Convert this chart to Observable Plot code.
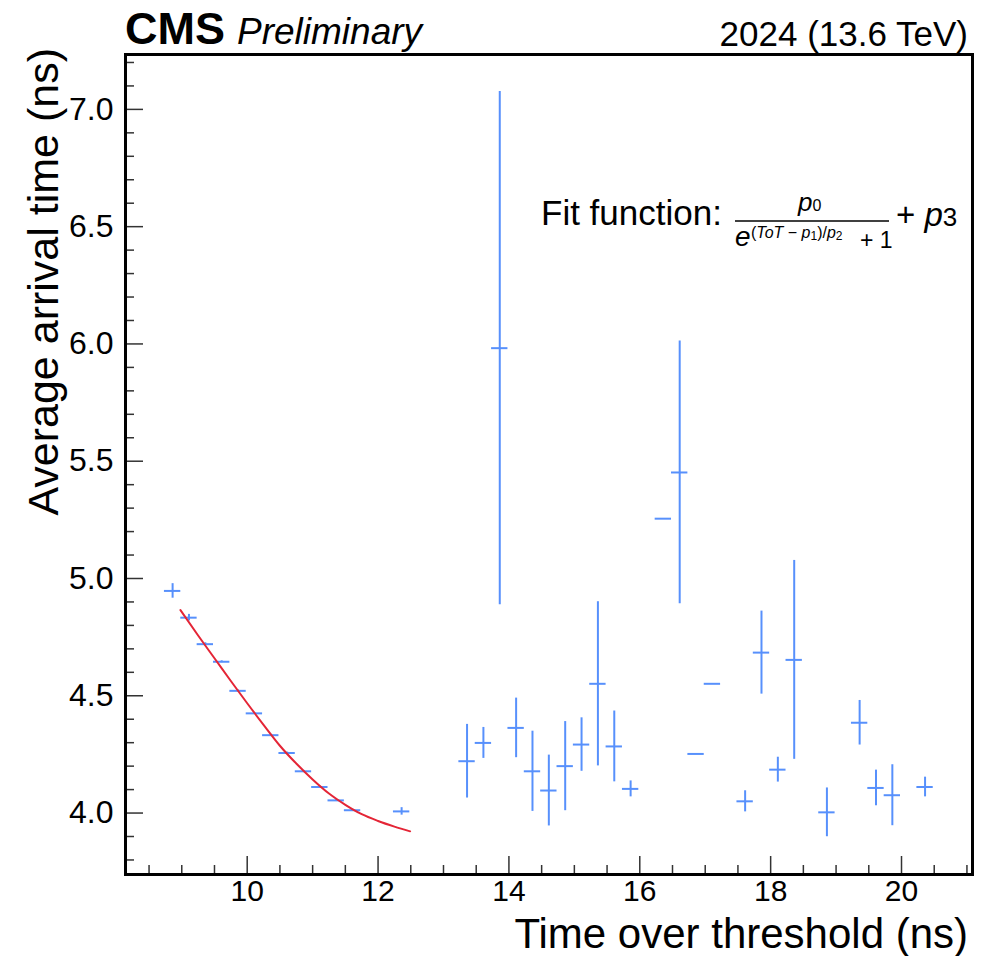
<!DOCTYPE html>
<html>
<head>
<meta charset="utf-8">
<script src="https://cdn.jsdelivr.net/npm/d3@7"></script>
<script src="https://cdn.jsdelivr.net/npm/@observablehq/plot@0.6"></script>
<style>
  html, body { margin: 0; padding: 0; background: #ffffff; }
  #chart svg { display: block; }
</style>
</head>
<body>
<div id="chart"></div>
<script>
// ---- Data (profile: mean arrival time per ToT bin) ----
const tot = [8.86, 9.11, 9.36, 9.61, 9.86, 10.11, 10.36, 10.61, 10.86, 11.11, 11.36, 11.61, 12.36,
             13.36, 13.61, 13.86, 14.11, 14.36, 14.61, 14.86, 15.11, 15.36, 15.61, 15.86,
             16.36, 16.61, 16.86, 17.11, 17.61, 17.86, 18.11, 18.36, 18.86, 19.36, 19.61, 19.86, 20.36];
const meanTime = [4.947, 4.833, 4.720, 4.645, 4.521, 4.425, 4.332, 4.256, 4.178, 4.111, 4.054, 4.012, 4.007,
                  4.221, 4.299, 5.982, 4.363, 4.178, 4.096, 4.200, 4.292, 4.551, 4.284, 4.103,
                  5.255, 5.452, 4.252, 4.551, 4.050, 4.684, 4.185, 4.653, 4.003, 4.385, 4.107, 4.076, 4.111];
const meanErr = [0.031, 0.014, 0.006, 0.004, 0.004, 0.004, 0.004, 0.004, 0.004, 0.004, 0.004, 0.004, 0.016,
                 0.157, 0.066, 1.094, 0.127, 0.171, 0.151, 0.190, 0.114, 0.350, 0.151, 0.034,
                 0.000, 0.560, 0.000, 0.000, 0.045, 0.177, 0.053, 0.424, 0.104, 0.095, 0.076, 0.130, 0.042];
const binHalfWidth = 0.125;

// Fit curve, sampled from the drawn red line
const fitToT  = [8.98, 9.25, 9.50, 9.75, 10.00, 10.25, 10.50, 10.75, 11.00, 11.25, 11.50, 11.75, 12.00, 12.25, 12.49];
const fitTime = [4.865, 4.757, 4.660, 4.563, 4.468, 4.376, 4.287, 4.211, 4.143, 4.083, 4.035, 3.995, 3.966, 3.942, 3.922];

// Axes
const xDomain = [8.14, 21.085];
const yDomain = [3.738, 7.234];
const xMajorTicks = [10, 12, 14, 16, 18, 20];
const yMajorTicks = [4.0, 4.5, 5.0, 5.5, 6.0, 6.5, 7.0];
const xMinorTicks = [8.5, 9, 9.5, 10.5, 11, 11.5, 12.5, 13, 13.5, 14.5, 15, 15.5, 16.5, 17, 17.5, 18.5, 19, 19.5, 20.5, 21];
const yMinorTicks = [3.8, 3.9, 4.1, 4.2, 4.3, 4.4, 4.6, 4.7, 4.8, 4.9, 5.1, 5.2, 5.3, 5.4, 5.6, 5.7, 5.8, 5.9,
                     6.1, 6.2, 6.3, 6.4, 6.6, 6.7, 6.8, 6.9, 7.1, 7.2];

const blue = "#5790fc";
const red = "#e42536";
const ff = "'Liberation Sans', Arial, Helvetica, sans-serif";

const points = tot.map((t, i) => ({tot: t, mean: meanTime[i], err: meanErr[i]}));
const fit = fitToT.map((t, i) => ({tot: t, time: fitTime[i]}));

const plot = Plot.plot({
  width: 990,
  height: 956,
  marginLeft: 125,
  marginRight: 18,
  marginTop: 54,
  marginBottom: 82,
  style: {fontFamily: ff, background: "white", color: "black"},
  x: {domain: xDomain},
  y: {domain: yDomain},
  marks: [
    // minor + major ticks pointing inward
    Plot.axisX({ticks: xMinorTicks, tickSize: -9, tickFormat: () => "", label: null, stroke: "#333", strokeWidth: 1.5}),
    Plot.axisX({ticks: xMajorTicks, tickSize: -18, tickFormat: () => "", label: null, stroke: "#333", strokeWidth: 1.5}),
    Plot.axisY({ticks: yMinorTicks, tickSize: -9, tickFormat: () => "", label: null, stroke: "#333", strokeWidth: 1.5}),
    Plot.axisY({ticks: yMajorTicks, tickSize: -18, tickFormat: () => "", label: null, stroke: "#333", strokeWidth: 1.5}),
    // tick labels
    Plot.axisX({ticks: xMajorTicks, tickSize: 0, tickPadding: 5, fontSize: 30, tickFormat: d => String(d), label: null, fill: "black"}),
    Plot.axisY({ticks: yMajorTicks, tickSize: 0, tickPadding: 12, fontSize: 32, tickFormat: d3.format(".1f"), label: null, fill: "black"}),
    // error bars
    Plot.ruleX(points, {x: "tot", y1: d => d.mean - d.err, y2: d => d.mean + d.err, stroke: blue, strokeWidth: 2}),
    Plot.ruleY(points, {y: "mean", x1: d => d.tot - binHalfWidth, x2: d => d.tot + binHalfWidth, stroke: blue, strokeWidth: 2}),
    // fit
    Plot.line(fit, {x: "tot", y: "time", stroke: red, strokeWidth: 2, curve: "monotone-x"}),
    Plot.frame({stroke: "black", strokeWidth: 3})
  ]
});

const svg = d3.select(plot);
const g = svg.append("g").attr("font-family", ff).attr("fill", "black").attr("text-anchor", "start");

// header
g.append("text").attr("x", 125).attr("y", 44).attr("font-size", 45).attr("font-weight", "bold").text("CMS");
g.append("text").attr("x", 237).attr("y", 44).attr("font-size", 37).attr("font-style", "italic").text("Preliminary");
g.append("text").attr("x", 968).attr("y", 46).attr("text-anchor", "end").attr("font-size", 35).text("2024 (13.6 TeV)");

// axis titles
g.append("text").attr("transform", "translate(58,48) rotate(-90)").attr("text-anchor", "end")
  .attr("font-size", 43).text("Average arrival time (ns)");
g.append("text").attr("x", 968).attr("y", 948).attr("text-anchor", "end")
  .attr("font-size", 42).text("Time over threshold (ns)");

// fit function annotation
g.append("text").attr("x", 541).attr("y", 225).attr("font-size", 35).text("Fit function:");
g.append("line").attr("x1", 735).attr("x2", 889).attr("y1", 221).attr("y2", 221)
  .attr("stroke", "black").attr("stroke-width", 1.5);
const num = g.append("text").attr("x", 798).attr("y", 211).attr("font-size", 26);
num.append("tspan").attr("font-style", "italic").text("p");
num.append("tspan").attr("font-size", 16).text("0");
g.append("text").attr("x", 735).attr("y", 246).attr("font-size", 28).attr("font-style", "italic").text("e");
const sup = g.append("text").attr("x", 751).attr("y", 238).attr("font-size", 16);
sup.append("tspan").text("(");
sup.append("tspan").attr("font-style", "italic").text("ToT");
sup.append("tspan").text(" \u2212 ");
sup.append("tspan").attr("font-style", "italic").text("p");
sup.append("tspan").attr("font-size", 12).attr("dy", 2).text("1");
sup.append("tspan").attr("dy", -2).text(")/");
sup.append("tspan").attr("font-style", "italic").text("p");
sup.append("tspan").attr("font-size", 12).attr("dy", 2).text("2");
g.append("text").attr("x", 860).attr("y", 248).attr("font-size", 23).text("+ 1");
const p3 = g.append("text").attr("x", 896).attr("y", 226).attr("font-size", 33);
p3.append("tspan").text("+ ");
p3.append("tspan").attr("font-style", "italic").text("p");
p3.append("tspan").attr("font-size", 26).text("3");

document.getElementById("chart").appendChild(plot);
</script>
</body>
</html>
